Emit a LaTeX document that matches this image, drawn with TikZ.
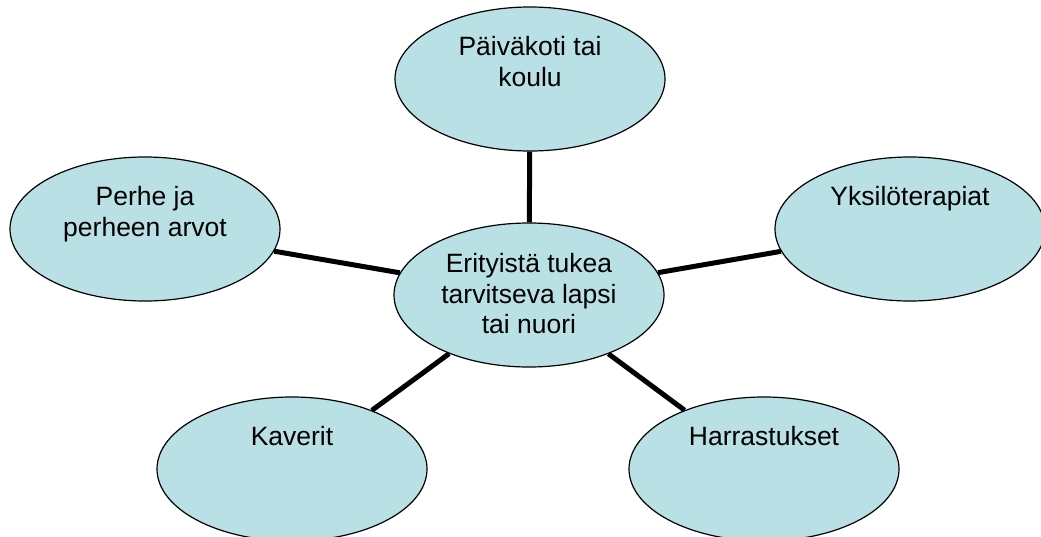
\documentclass[tikz,border=0pt]{standalone}
\usepackage{fontspec}
\setmainfont{Liberation Sans}
\usetikzlibrary{shapes.geometric,backgrounds}
\definecolor{bubble}{RGB}{185,224,229}
\tikzset{
  bub/.style={ellipse, draw=black, line width=1.2pt, fill=bubble, inner sep=0pt,
    minimum width=270pt, minimum height=144pt},
  toptext/.style={anchor=north, inner sep=0pt, yshift=-30pt, align=center,
    font=\fontsize{26.5}{30.5}\selectfont},
  midtext/.style={align=center, inner sep=0pt, font=\fontsize{26.5}{30.5}\selectfont},
  link/.style={line width=5pt, black}
}
\begin{document}
\begin{tikzpicture}[x=1pt,y=-1pt]
\useasboundingbox (0,0) rectangle (1041,536);
\node[bub] (c) at (529,295) {};
\node[midtext] (ct) at (529,294) {Erityistä tukea\\tarvitseva lapsi\\tai nuori};
\node[bub] (t) at (530,79) {};
\node[toptext] (tt) at (t.north) {Päiväkoti tai\\koulu};
\node[bub] (l) at (145,229) {};
\node[toptext] (lt) at (l.north) {Perhe ja\\perheen arvot};
\node[bub] (r) at (910,229) {};
\node[toptext] (rt) at (r.north) {Yksilöterapiat};
\node[bub] (bl) at (292,469) {};
\node[toptext] (blt) at (bl.north) {Kaverit};
\node[bub] (br) at (764,469) {};
\node[toptext] (brt) at (br.north) {Harrastukset};
\begin{pgfonlayer}{background}
\draw[link] (c) -- (t);
\draw[link] (c) -- (l);
\draw[link] (c) -- (r);
\draw[link] (c) -- (bl);
\draw[link] (c) -- (br);
\end{pgfonlayer}
\end{tikzpicture}
\end{document}
